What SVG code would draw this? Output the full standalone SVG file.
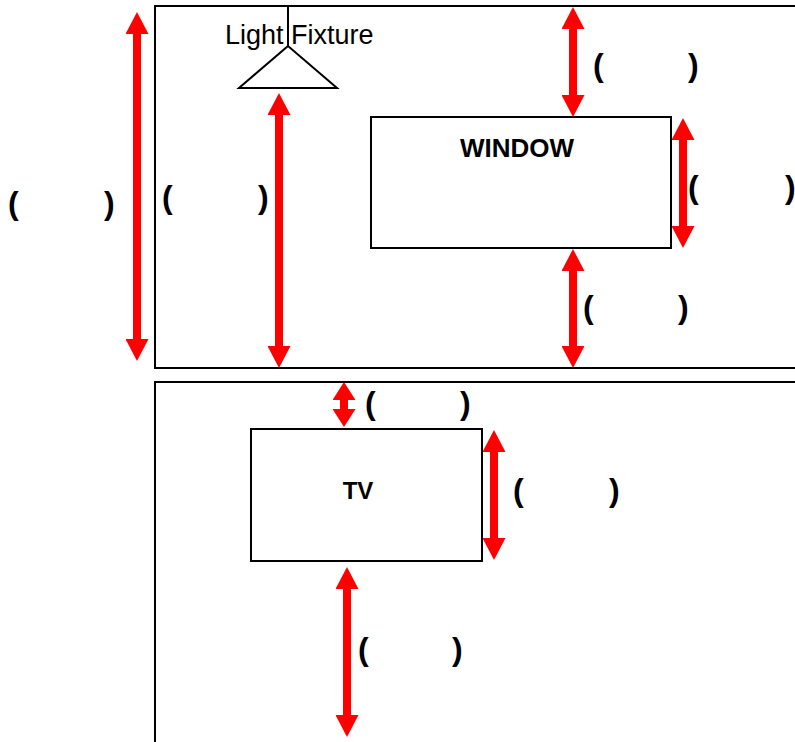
<svg xmlns="http://www.w3.org/2000/svg" width="795" height="742" viewBox="0 0 795 742">
<style>
.wall{fill:#fff;stroke:#000;stroke-width:2}
.box{fill:#fff;stroke:#000;stroke-width:2}
.arr{stroke:#ff0000;stroke-width:8;fill:none;marker-start:url(#head);marker-end:url(#head)}
.arrS{stroke:#ff0000;stroke-width:8;fill:none;marker-start:url(#headS);marker-end:url(#headS)}
.lbl{font-family:"Liberation Sans",Arial,sans-serif;font-weight:bold;fill:#000}
.par{font-family:"Liberation Sans",Arial,sans-serif;font-weight:bold;font-size:32px;fill:#000}
.lf{font-family:"Liberation Sans",Arial,sans-serif;font-size:27px;fill:#000}
</style>
<defs>
<marker id="head" viewBox="0 0 22 23" markerWidth="22" markerHeight="23" markerUnits="userSpaceOnUse" refX="4" refY="11.5" orient="auto-start-reverse">
<path d="M0,0 L22,11.5 L0,23 Z" fill="#ff0000"/>
</marker>
<marker id="headS" viewBox="0 0 18 23" markerWidth="18" markerHeight="23" markerUnits="userSpaceOnUse" refX="4" refY="11.5" orient="auto-start-reverse">
<path d="M0,0 L18,11.5 L0,23 Z" fill="#ff0000"/>
</marker>
</defs>
<rect width="795" height="742" fill="#fff"/>
<g id="upper-wall">
<rect class="wall" x="155" y="6" width="660" height="362"/>
</g>
<g id="lower-wall">
<rect class="wall" x="155" y="382" width="660" height="380"/>
</g>
<g id="light-fixture">
<line x1="288" y1="6" x2="288" y2="46" stroke="#000" stroke-width="2"/>
<polygon points="288,46 239,88 337,88" fill="none" stroke="#000" stroke-width="2"/>
<text class="lf" x="225" y="44">Light Fixture</text>
</g>
<g id="window">
<rect class="box" x="371" y="117" width="300" height="131"/>
<text class="lbl" x="517" y="157" font-size="26" text-anchor="middle">WINDOW</text>
</g>
<g id="tv">
<rect class="box" x="251" y="429" width="231" height="132"/>
<text class="lbl" x="358" y="499" font-size="24" text-anchor="middle">TV</text>
</g>
<g id="connectors">
<line class="arr" x1="137" y1="30" x2="137" y2="343"/>
<line class="arr" x1="279" y1="111" x2="279" y2="350"/>
<line class="arr" x1="573" y1="25" x2="573" y2="99"/>
<line class="arr" x1="683" y1="136" x2="683" y2="230"/>
<line class="arr" x1="573" y1="267" x2="573" y2="350"/>
<line class="arrS" x1="344" y1="396" x2="344" y2="413"/>
<line class="arr" x1="494" y1="448" x2="494" y2="542"/>
<line class="arr" x1="347" y1="585" x2="347" y2="719"/>
</g>
<g id="labels">
<text class="par" y="214"><tspan x="8">(</tspan><tspan x="104">)</tspan></text>
<text class="par" y="208"><tspan x="162">(</tspan><tspan x="258">)</tspan></text>
<text class="par" y="76"><tspan x="593">(</tspan><tspan x="688">)</tspan></text>
<text class="par" y="198"><tspan x="688">(</tspan><tspan x="785">)</tspan></text>
<text class="par" y="318"><tspan x="583">(</tspan><tspan x="678">)</tspan></text>
<text class="par" y="414"><tspan x="365">(</tspan><tspan x="460">)</tspan></text>
<text class="par" y="501"><tspan x="513">(</tspan><tspan x="609">)</tspan></text>
<text class="par" y="660"><tspan x="358">(</tspan><tspan x="452">)</tspan></text>
</g>
</svg>
